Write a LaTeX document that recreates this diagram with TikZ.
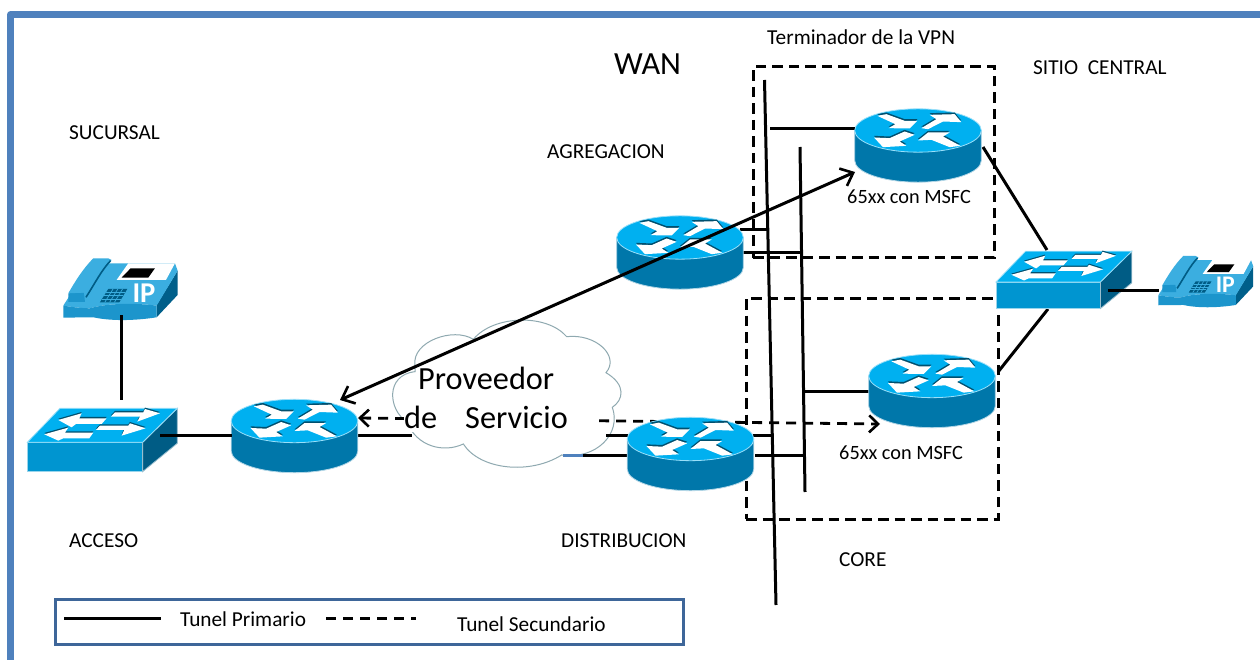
\documentclass[tikz,border=0pt]{standalone}
\usepackage{fontspec}
\setmainfont{Carlito}
\usetikzlibrary{arrows.meta,calc}
\definecolor{frameblue}{HTML}{4F81BD}
\definecolor{legendblue}{HTML}{3E6699}
\definecolor{topblue}{HTML}{00B0F0}
\definecolor{frontblue}{HTML}{0095D0}
\definecolor{bodyblue}{HTML}{0077AA}
\definecolor{sideblue}{HTML}{005C85}
\definecolor{phoneblue}{HTML}{3BAEE0}
\definecolor{phonefront}{HTML}{1C95CC}
\definecolor{phoneside}{HTML}{005F8A}
\definecolor{cloudline}{HTML}{8FA9B0}
\definecolor{arrowshade}{HTML}{00506F}
\tikzset{
  wire/.style={line width=3pt,black},
  thinwire/.style={line width=3pt,black},
  tunnel/.style={wire,{Straight Barb[length=11pt,width=19pt,line width=2.6pt]}-{Straight Barb[length=11pt,width=19pt,line width=2.6pt]}},
  backup/.style={line width=2.8pt,dash pattern=on 10pt off 7pt,{Straight Barb[length=9pt,width=17pt,line width=2.6pt]}-{Straight Barb[length=9pt,width=17pt,line width=2.6pt]}},
  zone/.style={line width=3pt,dash pattern=on 10.5pt off 6pt},
  label/.style={font=\fontsize{21.3}{24}\selectfont,anchor=west,inner sep=0pt},
  small/.style={font=\fontsize{20.3}{24}\selectfont,anchor=west,inner sep=0pt},
  big/.style={font=\fontsize{32.3}{36}\selectfont,anchor=west,inner sep=0pt},
  wh/.style={fill=white},
  shade/.style={fill=arrowshade},
  router/.pic={
    \fill[bodyblue,draw=white!70!bodyblue,line width=.8pt] (-190,0) -- (-190,90) arc[x radius=190,y radius=-65,start angle=180,end angle=360] -- (190,0) -- cycle;
    \fill[topblue,draw=white!60!topblue,line width=.8pt] (0,0) ellipse[x radius=190,y radius=65];
    \foreach \dy/\st in {-5/shade,0/wh}{
      \begin{scope}[shift={(0,\dy)}]
      \fill[\st] (-122,-44) -- (-95,-49) -- (-40,-29) -- (-2,-29) -- (-25,-6) -- (-88,-7) -- (-68,-19) -- cycle;
      \fill[\st] (10,-7) -- (55,-34) -- (35,-47) -- (110,-49) -- (130,-25) -- (75,-27) -- (30,-4) -- cycle;
      \fill[\st] (-10,13) -- (-55,33) -- (-35,46) -- (-105,50) -- (-132,21) -- (-85,23) -- (-40,3) -- cycle;
      \fill[\st] (127,46) -- (95,50) -- (40,28) -- (0,30) -- (30,6) -- (95,6) -- (75,18) -- cycle;
      \end{scope}
    }
  },
  lanswitch/.pic={
    \begin{scope}[shift={(-82,-607)}]
    \fill[frontblue,draw=white!60!frontblue,line width=.8pt] (82,607) -- (428,607) -- (428,695) -- (82,695) -- cycle;
    \fill[sideblue,draw=white!60!sideblue,line width=.8pt] (428,607) -- (532,505) -- (532,610) -- (428,695) -- cycle;
    \fill[topblue,draw=white!60!topblue,line width=.8pt] (82,607) -- (180,505) -- (532,505) -- (428,607) -- cycle;
    \foreach \dy/\st in {-4/shade,0/wh}{
      \begin{scope}[shift={(0,\dy)}]
      \fill[\st] (175,540) -- (245,520) -- (238,535) -- (320,535) -- (305,552) -- (228,552) -- (215,562) -- cycle;
      \fill[\st] (333,530) -- (345,517) -- (430,517) -- (435,507) -- (480,520) -- (412,545) -- (420,530) -- cycle;
      \fill[\st] (133,583) -- (205,563) -- (195,578) -- (280,578) -- (268,595) -- (190,595) -- (175,602) -- cycle;
      \fill[\st] (288,570) -- (300,557) -- (385,557) -- (390,550) -- (437,565) -- (365,587) -- (373,570) -- cycle;
      \end{scope}
    }
    \end{scope}
  },
  ipphone/.pic={
    \begin{scope}[shift={(-190,-55)}]
    \fill[phoneside] (470,232) -- (533,165) -- (533,92) -- (470,195) -- cycle;
    \fill[phoneblue] (190,197) -- (255,95) -- (300,70) -- (525,70) -- (533,92) -- (470,197) .. controls (400,188) and (320,190) .. (270,205) .. controls (240,205) and (210,200) .. (190,197) -- cycle;
    \fill[phonefront] (190,197) .. controls (210,200) and (240,205) .. (270,205) .. controls (320,190) and (400,188) .. (470,197) -- (470,232) .. controls (400,243) and (330,243) .. (280,232) -- (190,233) -- cycle;
    \fill[phonefront] (205,160) -- (252,158) -- (255,186) -- (205,186) -- cycle;
    \fill[phoneblue] (255,170) .. controls (285,125) and (305,85) .. (335,60) -- (325,55) -- (280,55) .. controls (250,85) and (225,125) .. (205,160) -- (252,158) -- cycle;
    \draw[sideblue,line width=1.6pt] (258,172) .. controls (285,130) and (305,90) .. (332,62);
    \fill[white] (350,120) -- (385,70) -- (525,70) -- (498,120) -- cycle;
    \fill[black] (365,113) -- (392,85) -- (465,85) -- (445,113) -- cycle;
    \fill[sideblue] (300,187) -- (325,147) -- (382,147) -- (358,187) -- cycle;
    \foreach \t in {.25,.5,.75}{
      \draw[phoneblue,line width=.7pt] ($(300,187)!\t!(325,147)$) -- ($(358,187)!\t!(382,147)$);
      \draw[phoneblue,line width=.7pt] ($(300,187)!\t!(358,187)$) -- ($(325,147)!\t!(382,147)$);
    }
    \node[transform shape,text=white,inner sep=0pt,font=\fontsize{86}{86}\selectfont\bfseries] at (432,160) {IP};
    \end{scope}
  },
}
\begin{document}
\begin{tikzpicture}[x=1pt,y=-1pt]
\useasboundingbox (0,0) rectangle (1260,660);
\fill[white] (0,0) rectangle (1260,660);
% outer frame
\draw[frameblue,line width=6.5pt,line join=round] (10.5,660) -- (10.5,14.5) -- (1260,14.5);

% zones
\node[draw,zone,minimum width=241pt,minimum height=191pt,inner sep=0pt] (zvpn) at (873.5,162.5) {};
\node[draw,zone,minimum width=252pt,minimum height=221pt,inner sep=0pt] (zcore) at (872,408.5) {};

% free ends of the connectors
\coordinate (a1) at (764.5,80);
\coordinate (a2) at (776,605);
\coordinate (b1) at (800,147);
\coordinate (b2) at (805,492);
\coordinate (h1a) at (770,129);
\coordinate (h1b) at (856,129);
\coordinate (h2a) at (740,230);
\coordinate (h2b) at (768,230);
\coordinate (h3a) at (743,253);
\coordinate (h3b) at (801,253);
\coordinate (h4a) at (804,391);
\coordinate (h4b) at (869,391);
\coordinate (h5a) at (753,435);
\coordinate (h5b) at (772,435);
\coordinate (h6a) at (755,455);
\coordinate (h6b) at (805,455);
\coordinate (u1a) at (983,147);
\coordinate (u1b) at (1047,250);
\coordinate (u2a) at (998,372);
\coordinate (u2b) at (1048,309);
\coordinate (s1a) at (358,435);
\coordinate (s1b) at (412,435);
\coordinate (s2a) at (606,435);
\coordinate (s2b) at (628,435);
\coordinate (s3a) at (583,455);
\coordinate (s3b) at (628,455);
\coordinate (s4a) at (563,455);

\draw[thinwire] (a1) -- (a2);
\draw[thinwire] (b1) -- (b2);
\draw[thinwire] (h1a) -- (h1b);
\draw[thinwire] (h2a) -- (h2b);
\draw[thinwire] (h3a) -- (h3b);
\draw[thinwire] (h4a) -- (h4b);
\draw[thinwire] (h5a) -- (h5b);
\draw[thinwire] (h6a) -- (h6b);
\draw[thinwire] (u1a) -- (u1b);
\draw[thinwire] (u2a) -- (u2b);
\draw[wire] (s1a) -- (s1b);

% cloud
\begin{scope}[shift={(380,300)},x=.3333pt,y=-.3333pt]
\path[fill=white,draw=cloudline,line width=1pt] (105,195)
 .. controls (95,125) and (220,80) .. (280,118)
 .. controls (340,45) and (500,40) .. (560,110)
 .. controls (650,100) and (720,170) .. (678,218)
 .. controls (740,255) and (730,300) .. (697,322)
 .. controls (725,400) and (650,480) .. (545,465)
 .. controls (450,525) and (300,510) .. (250,432)
 .. controls (190,460) and (110,440) .. (80,365)
 .. controls (25,330) and (15,225) .. (105,215) -- cycle;
\end{scope}
\draw[wire] (s2a) -- (s2b);
\draw[wire] (s3a) -- (s3b);
\draw[wire,draw=frameblue] (s4a) -- (s3a);

% secondary tunnel
\coordinate (dl) at (358,418);
\coordinate (dr) at (880,424);
\draw[backup] (dl) -- (dr);

% cloud text
\node[fill=white,inner sep=0pt,font=\fontsize{32.3}{36}\selectfont,anchor=west,minimum height=30pt,text width=190pt] (dserv) at (404,417) {de\hspace{28pt}Servicio};
\node[big] (prov) at (418,378) {Proveedor};

% devices
\pic[scale=.3333] (r1) at (294.5,421) {router};
\pic[scale=.3333] (r2) at (680,237.5) {router};
\pic[scale=.3333] (r3) at (690.5,439) {router};
\pic[scale=.3333] (r4) at (918,130.5) {router};
\pic[scale=.3333] (r5) at (932,376) {router};
\pic[scale=.3333] (sw1) at (27.3,442.3) {lanswitch};
\pic[scale=.3017] (sw2) at (996,282) {lanswitch};
\pic[scale=.3333] (ph1) at (63.3,258.3) {ipphone};
\pic[scale=.2767] (ph2) at (1158.3,256) {ipphone};

% connectors drawn over the devices
\coordinate (v1a) at (121,315);
\coordinate (v1b) at (121,400);
\coordinate (w1a) at (160,435.7);
\coordinate (w1b) at (232,435.7);
\coordinate (w2a) at (1108,290);
\coordinate (w2b) at (1159,290);
\draw[wire] (v1a) -- (v1b);
\draw[wire] (w1a) -- (w1b);
\draw[wire] (w2a) -- (w2b);

% primary tunnel
\coordinate (pl) at (340,400);
\coordinate (pr) at (855,172);
\draw[tunnel] (pl) -- (pr);

% labels
\node[label] (t1) at (767,37.5) {Terminador de la VPN};
\node[big] (t2) at (614,64) {WAN};
\node[label] (t3) at (1033,67.5) {SITIO\ \ CENTRAL};
\node[label] (t4) at (69,132.5) {SUCURSAL};
\node[label] (t5) at (547,151.5) {AGREGACION};
\node[small] (t6) at (847,196.5) {65xx con MSFC};
\node[small] (t7) at (839,452.5) {65xx con MSFC};
\node[label] (t8) at (69,541) {ACCESO};
\node[label] (t9) at (561,541) {DISTRIBUCION};
\node[label] (t10) at (839,559.5) {CORE};

% legend
\node[draw=legendblue,line width=3pt,minimum width=628pt,minimum height=45pt,inner sep=0pt] (leg) at (369,621.5) {};
\coordinate (l1a) at (64,618);
\coordinate (l1b) at (161,618);
\coordinate (l2a) at (326,618);
\coordinate (l2b) at (416,618);
\draw[wire] (l1a) -- (l1b);
\draw[line width=3pt,dash pattern=on 10pt off 7pt] (l2a) -- (l2b);
\node[label] (t11) at (180,619) {Tunel Primario};
\node[label] (t12) at (457,624) {Tunel Secundario};
\end{tikzpicture}
\end{document}
